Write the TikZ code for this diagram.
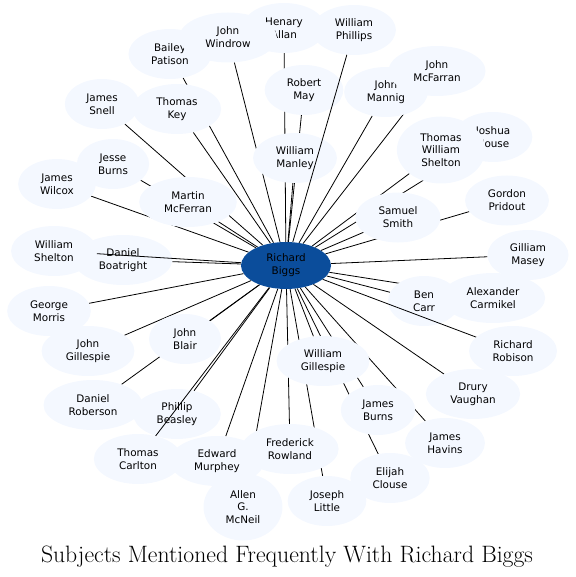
\documentclass[tikz,border=0pt]{standalone}
\usepackage{fontspec}
\newfontfamily\namefont{DejaVu Sans}
\usetikzlibrary{shapes.geometric}
\definecolor{namefill}{HTML}{F4F8FF}
\definecolor{hubfill}{HTML}{0B4D9B}
\pgfdeclarelayer{edges}
\pgfdeclarelayer{over}
\pgfsetlayers{edges,main,over}

\begin{document}
\begin{tikzpicture}[x = 1pt, y = -1pt,
		person/.style = {ellipse, fill = namefill, align = center, font = \namefont\fontsize{10.4}{12.8}\selectfont, inner xsep = 10.6pt, inner ysep = 2pt, minimum width = 72pt, minimum height = 50pt},
		hub/.style = {person, fill = hubfill, minimum width = 90pt, minimum height = 47pt},
		tie/.style = {black, line width = 0.8pt}]
				\useasboundingbox (0,0) rectangle (575,577);
				\node (allan) at (284,28) [person] {Henary\\Allan};
				\node (patison) at (170,54) [person] {Bailey\\Patison};
				\node (windrow) at (228,37.5) [person, inner xsep = 12pt] {John\\Windrow};
				\node (phillips) at (354,30) [person] {William\\Phillips};
				\node (mannig) at (386,92) [person] {John\\Mannig};
				\node (mcfarran) at (437,71) [person] {John\\McFarran};
				\node (may) at (304,90) [person] {Robert\\May};
				\node (snell) at (102,104) [person] {James\\Snell};
				\node (key) at (177,109) [person] {Thomas\\Key};
				\node (house) at (493,137) [person] {Joshua\\House};
				\node (tws) at (441,150) [person, minimum height = 67pt] {Thomas\\William\\Shelton};
				\node (manley) at (295,158) [person] {William\\Manley};
				\node (jesse) at (113,164) [person] {Jesse\\Burns};
				\node (wilcox) at (57,184) [person] {James\\Wilcox};
				\node (mcferran) at (188,202) [person] {Martin\\McFerran};
				\node (pridout) at (507,200.5) [person] {Gordon\\Pridout};
				\node (smith) at (398,217.5) [person] {Samuel\\Smith};
				\node (wshelton) at (54,251) [person] {William\\Shelton};
				\node (boatright) at (123,260) [person] {Daniel\\Boatright};
				\node (masey) at (528,255) [person] {Gilliam\\Masey};
				\node (carr) at (424,301) [person] {Ben\\Carr};
				\node (carmikel) at (493,298) [person] {Alexander\\Carmikel};
				\node (morris) at (49,311) [person] {George\\Morris};
				\node (jgillespie) at (88,351) [person] {John\\Gillespie};
				\node (blair) at (185,339) [person] {John\\Blair};
				\node (robison) at (513,351) [person] {Richard\\Robison};
				\node (wgillespie) at (323,361) [person] {William\\Gillespie};
				\node (vaughan) at (473,394) [person] {Drury\\Vaughan};
				\node (roberson) at (93,405) [person] {Daniel\\Roberson};
				\node (beasley) at (177,414) [person] {Phillip\\Beasley};
				\node (jburns) at (378,410) [person] {James\\Burns};
				\node (havins) at (445,443) [person] {James\\Havins};
				\node (carlton) at (138,459) [person] {Thomas\\Carlton};
				\node (murphey) at (217,461) [person] {Edward\\Murphey};
				\node (rowland) at (290,449) [person] {Frederick\\Rowland};
				\node (clouse) at (390,478) [person] {Elijah\\Clouse};
				\node (mcneil) at (243,507) [person, minimum height = 67pt] {Allen\\G.\\McNeil};
				\node (little) at (327,501) [person] {Joseph\\Little};
				\node (biggs) at (286,265.5) [hub] {Richard\\Biggs};
				\node (title) at (287,562) [anchor = base, font = \fontsize{23.7}{28}\selectfont] {Subjects Mentioned Frequently With Richard Biggs};
				% spokes that the other names cover
				\begin{pgfonlayer}{edges}
				\draw[tie] (biggs) -- (allan);
				\draw[tie] (biggs) -- (patison);
				\draw[tie] (biggs) -- (windrow);
				\draw[tie] (biggs) -- (mannig);
				\draw[tie] (biggs) -- (mcfarran);
				\draw[tie] (biggs) -- (may);
				\draw[tie] (biggs) -- (snell);
				\draw[tie] (biggs) -- (key);
				\draw[tie] (biggs) -- (house);
				\draw[tie] (biggs) -- (tws);
				\draw[tie] (biggs) -- (manley);
				\draw[tie] (biggs) -- (jesse);
				\draw[tie] (biggs) -- (wilcox);
				\draw[tie] (biggs) -- (mcferran);
				\draw[tie] (biggs) -- (pridout);
				\draw[tie] (biggs) -- (smith);
				\draw[tie] (biggs) -- (boatright);
				\draw[tie] (biggs) -- (masey);
				\draw[tie] (biggs) -- (carr);
				\draw[tie] (biggs) -- (carmikel);
				\draw[tie] (biggs) -- (morris);
				\draw[tie] (biggs) -- (jgillespie);
				\draw[tie] (biggs) -- (blair);
				\draw[tie] (biggs) -- (wgillespie);
				\draw[tie] (biggs) -- (vaughan);
				\draw[tie] (biggs) -- (roberson);
				\draw[tie] (biggs) -- (beasley);
				\draw[tie] (biggs) -- (jburns);
				\draw[tie] (biggs) -- (havins);
				\draw[tie] (biggs) -- (murphey);
				\draw[tie] (biggs) -- (rowland);
				\draw[tie] (biggs) -- (clouse);
				\draw[tie] (biggs) -- (mcneil);
				\draw[tie] (biggs) -- (little);
				\end{pgfonlayer}
				% spokes drawn over the names
				\begin{pgfonlayer}{over}
				\draw[tie] (biggs) -- (phillips);
				\draw[tie] (biggs) -- (wshelton);
				\draw[tie] (biggs) -- (carlton);
				\draw[tie] (biggs) -- (robison);
				\end{pgfonlayer}
\end{tikzpicture}
\end{document}
